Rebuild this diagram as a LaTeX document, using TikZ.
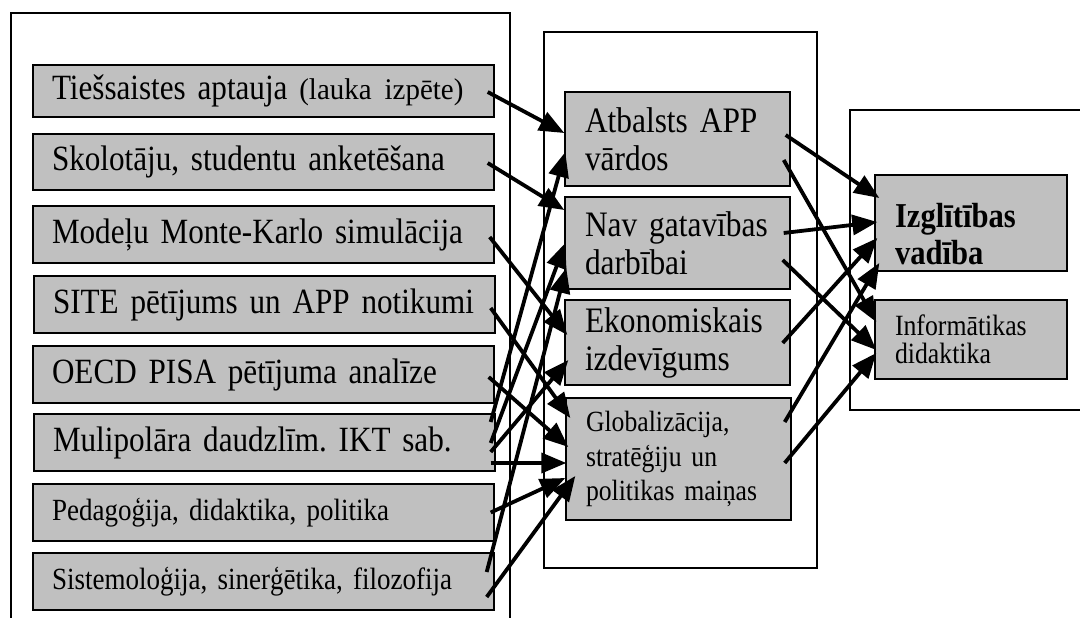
\documentclass[tikz,border=0pt]{standalone}
\usepackage{fontspec}
\setmainfont{Liberation Serif}[FakeStretch=0.877]
\usetikzlibrary{arrows.meta,calc}
\definecolor{boxgray}{HTML}{C0C0C0}
\frenchspacing
\begin{document}
\begin{tikzpicture}[x=1pt,y=-1pt,
  frame/.style={line width=1.4pt},
  gbox/.style={draw=black, line width=1.4pt, fill=boxgray, align=left, inner ysep=0pt},
  lbox/.style={gbox, minimum width=461pt, inner xsep=19pt, text width=423pt, font=\fontsize{35.5}{38}\selectfont\frenchspacing},
  mbox/.style={gbox, minimum width=225pt, inner xsep=20pt, text width=185pt, font=\fontsize{35.8}{38}\selectfont},
  rbox/.style={gbox, minimum width=192pt, inner xsep=20pt, text width=152pt},
  arr/.style={line width=3.8pt, -{Triangle[length=25pt,width=20pt]}}]
\useasboundingbox (0,0) rectangle (1080,618);
\fill[white] (0,0) rectangle (1080,618);
% frames
\draw[frame] (11,640) -- (11,13) -- (510,13) -- (510,640);
\draw[frame] (544,32) rectangle (817,568);
\draw[frame] (1100,110) -- (850,110) -- (850,410) -- (1100,410);
% left column
\node[lbox, minimum height=52pt] (t1) at (263.5,91) {Tiešsaistes aptauja {\fontsize{30}{32}\selectfont\scalebox{1.1}[1]{(lauka izpēte)}}};
\node[lbox, minimum height=56pt] (t2) at (263.5,162) {Skolotāju, studentu anketēšana};
\node[lbox, minimum height=57pt] (t3) at (263.5,234.5) {Modeļu Monte-Karlo simulācija};
\node[lbox, minimum height=57pt] (t4) at (264.5,304.5) {SITE pētījums un APP notikumi};
\node[lbox, minimum height=57pt] (t5) at (263.5,374.5) {OECD PISA pētījuma analīze};
\node[lbox, minimum height=57pt] (t6) at (264.5,442.5) {Mulipolāra daudzlīm. IKT sab.};
\node[lbox, minimum height=57pt, font=\fontsize{30.8}{34}\selectfont] (t7) at (263.5,512.5) {Pedagoģija, didaktika, politika};
\node[lbox, minimum height=57pt, font=\fontsize{30.8}{34}\selectfont] (t8) at (263.5,581.5) {Sistemoloģija, sinerģētika, filozofija};
% middle column
\node[mbox, minimum height=94pt] (a) at (677.5,139) {Atbalsts APP\\vārdos};
\node[mbox, minimum height=92pt] (n) at (677.5,243) {Nav gatavības\\darbībai};
\node[mbox, minimum height=85pt] (e) at (677.5,342.5) {Ekonomiskais\\izdevīgums};
\node[mbox, minimum height=122pt, font=\fontsize{29.3}{34.5}\selectfont] (g) at (678.5,459) {Globalizācija,\\stratēģiju un\\politikas maiņas};
% right column
\node[rbox, minimum height=96pt, font=\fontsize{34.9}{37}\selectfont\bfseries] (i) at (971,223) {\rule{0pt}{46pt}Izglītības\\vadība};
\node[rbox, minimum height=79pt, font=\fontsize{29.4}{28}\selectfont] (f) at (971,339.5) {Informātikas\\didaktika};
% left -> middle
\draw[arr] ($(t1.east)+(-7,1)$) -- ($(a.west)+(0,-6)$);
\draw[arr] ($(t2.east)+(-7,1)$) -- ($(n.west)+(0,-33)$);
\draw[arr] ($(t3.east)+(-5,2.5)$) -- ($(e.west)+(3,-7.5)$);
\draw[arr] ($(t4.east)+(-5,3.5)$) -- ($(g.west)+(5,-41)$);
\draw[arr] ($(t5.east)+(-6,2.5)$) -- ($(g.west)+(3,-12)$);
\draw[arr] ($(t6.east)+(-5,-20.5)$) -- ($(a.west)+(1,13)$);
\draw[arr] ($(t6.east)+(-5,0.5)$) -- ($(n.west)+(1,0)$);
\draw[arr] ($(t6.east)+(-5,9.5)$) -- ($(e.west)+(4,17.5)$);
\draw[arr] ($(t6.east)+(-5,20.5)$) -- ($(g.west)+(1,4)$);
\draw[arr] ($(t7.east)+(-4,0)$) -- ($(g.west)+(0,19)$);
\draw[arr] ($(t8.east)+(-8,-9.5)$) -- ($(n.west)+(2,25)$);
\draw[arr] ($(t8.east)+(-8,15.5)$) -- ($(g.west)+(10,17)$);
% middle -> right
\draw[arr] ($(a.east)+(-5,-4)$) -- ($(i.west)+(5,-25)$);
\draw[arr] ($(a.east)+(-7,21)$) -- ($(f.west)+(2,-17.5)$);
\draw[arr] ($(n.east)+(-7,-10)$) -- ($(i.west)+(3,-1)$);
\draw[arr] ($(n.east)+(-8,17)$) -- ($(f.west)+(2,10.5)$);
\draw[arr] ($(e.east)+(-8,0.5)$) -- ($(i.west)+(3,15)$);
\draw[arr] ($(g.east)+(-7,-37)$) -- ($(i.west)+(5,40)$);
\draw[arr] ($(g.east)+(-7,4)$) -- ($(f.west)+(2,13.5)$);
\end{tikzpicture}
\end{document}
